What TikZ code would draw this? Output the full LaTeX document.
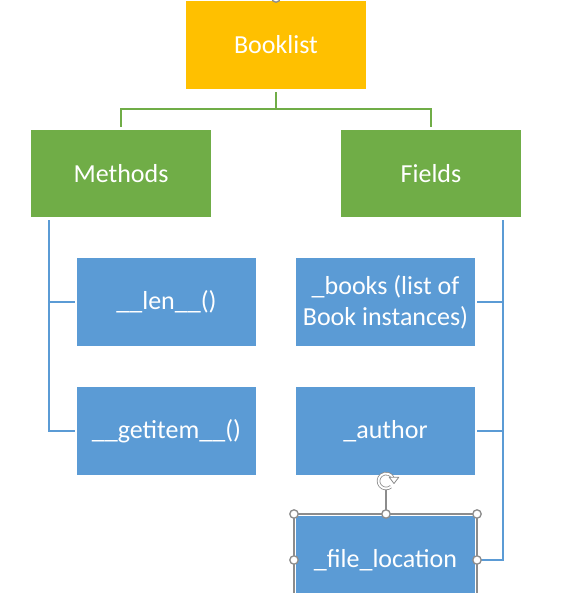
\documentclass[tikz,border=0pt]{standalone}
\usepackage{fontspec}
\setmainfont{Carlito}
\usetikzlibrary{calc,arrows.meta}
\definecolor{gold}{HTML}{FFC000}
\definecolor{grn}{HTML}{70AD47}
\definecolor{blu}{HTML}{5B9BD5}
\definecolor{hgray}{HTML}{8C8C8C}
\tikzset{
  box/.style={draw=none, text=white, inner sep=0pt, align=center,
    minimum width=134.25pt, minimum height=66pt,
    font=\fontsize{19.5}{23}\selectfont},
  topbox/.style={box, fill=gold, minimum width=135pt},
  grnbox/.style={box, fill=grn, minimum width=135pt, minimum height=65.25pt},
  blubox/.style={box, fill=blu},
  gline/.style={draw=grn, line width=1.5pt},
  bline/.style={draw=blu, line width=1.5pt},
  handle/.style={draw=hgray, fill=white, line width=1pt},
  selframe/.style={draw=hgray, line width=0.8pt}
}
\begin{document}
\begin{tikzpicture}[x=0.75pt,y=-0.75pt]
\useasboundingbox (0,0) rectangle (569,593);
\clip (0,0) rectangle (569,593);
\fill[white] (0,0) rectangle (569,593);

\node[topbox] (booklist) at (276,45) {Booklist};
\node[grnbox] (methods) at (121,173.5) {Methods};
\node[grnbox] (fields) at (431,173.5) {Fields};
\node[blubox] (len) at (166.5,302) {\_\_len\_\_()};
\node[blubox] (getitem) at (166.5,431) {\_\_getitem\_\_()};
\node[blubox] (books) at (385.5,302) {\_books (list of\\Book instances)};
\node[blubox] (author) at (385.5,431) {\_author};
\node[blubox] (fileloc) at (385.5,560) {\_file\_location};

% tree connectors
\coordinate (hbar) at ($(booklist.south)+(0,20)$);
\draw[gline] ($(booklist.south)+(0,3)$) -- (hbar);
\draw[gline] ($(methods.north)+(0,-3)$) |- (hbar) -| ($(fields.north)+(0,-3)$);

% left bracket
\draw[bline] ($(methods.south west)+(18,3)$) |- ($(getitem.west)+(-2,0)$);
\draw[bline] ($(len.west)+(-28,0)$) -- ($(len.west)+(-2,0)$);

% right bracket
\draw[bline] ($(fields.south east)+(-18,3)$) |- ($(fileloc.east)+(2,0)$);
\draw[bline] ($(books.east)+(28,0)$) -- ($(books.east)+(2,0)$);
\draw[bline] ($(author.east)+(28,0)$) -- ($(author.east)+(2,0)$);

% selection frame around _file_location
\draw[selframe] (294,600) -- (294,514) -- (477,514) -- (477,600);
\draw[selframe] (386,489) -- (386,514);
% rotation handle
\draw[draw=hgray, line width=0.6pt, double=white, double distance=1.4pt]
  (386,481) ++(50:7.5) arc[start angle=50, end angle=335, radius=7.5];
\draw[draw=hgray, fill=white, line width=0.6pt, line join=round]
  (389.2,477.2) -- (398.8,477.2) -- (394,483.5) -- cycle;
\foreach \p in {(294,514),(386,514),(477,514),(294,560),(477,560)}
  \draw[handle] \p circle (4.2);
% handle at top of Booklist
\draw[handle] (276,-2) circle (4.2);
\end{tikzpicture}
\end{document}
